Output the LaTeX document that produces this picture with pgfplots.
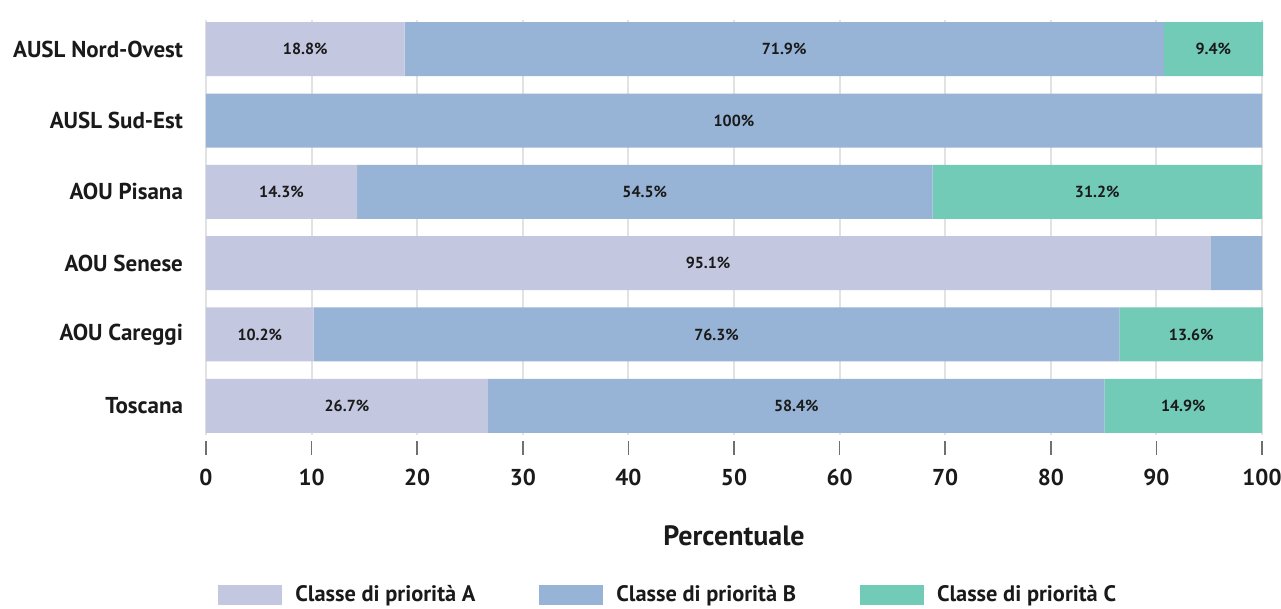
\documentclass[border=0pt]{standalone}
\usepackage{pgfplots}
\usepackage{pgfplotstable}
\pgfplotsset{compat=1.18}
\usepackage{fontspec}
\setmainfont{PT Sans}

\definecolor{clA}{HTML}{C3C7DF}
\definecolor{clB}{HTML}{97B4D6}
\definecolor{clC}{HTML}{72CBB7}
\definecolor{gridc}{HTML}{E2E2E2}
\definecolor{tickc}{HTML}{707070}
\definecolor{txt}{HTML}{1A1A1A}

% y: 0 = Toscana (bottom) ... 5 = AUSL Nord-Ovest (top)
\pgfplotstableread{
y A B C
5 18.8 71.9 9.4
4 0 100 0
3 14.3 54.5 31.2
2 95.1 4.9 0
1 10.2 76.3 13.6
0 26.7 58.4 14.9
}\data

\begin{document}
\begin{tikzpicture}
\begin{axis}[
  scale only axis,
  width=528pt, height=207.5pt,
  xbar stacked,
  bar width=27pt,
  xmin=0, xmax=100,
  ymin=-0.41, ymax=5.41,
  clip=false,
  xtick={0,10,...,100},
  ytick={0,1,2,3,4,5},
  yticklabels={Toscana, AOU Careggi, AOU Senese, AOU Pisana, AUSL Sud-Est, AUSL Nord-Ovest},
  /pgf/number format/assume math mode=true,
  axis line style={draw=none},
  xtick pos=lower,
  xmajorgrids,
  major grid style={gridc, line width=1pt},
  tick align=outside,
  x tick style={tickc, line width=0.8pt, yshift=-3pt},
  major tick length=7pt,
  y tick style={draw=none},
  xticklabel style={font=\bfseries\fontsize{11.5}{13}\selectfont, text=txt, yshift=-6.5pt},
  yticklabel style={font=\bfseries\fontsize{11.5}{13}\selectfont, text=txt, xshift=-1pt},
  xlabel={Percentuale},
  xlabel style={font=\bfseries\fontsize{14}{16}\selectfont, text=txt, at={(axis description cs:0.5,-0.243)}, anchor=center},
  legend columns=3,
  legend style={draw=none, at={(axis description cs:0.0057,-0.3855)}, anchor=west,
    font=\bfseries\fontsize{11.2}{13}\selectfont, text=txt,
    /tikz/every odd column/.append style={column sep=4.5pt},
    /tikz/every even column/.append style={column sep=30pt}},
  legend image code/.code={\draw[#1,draw=none] (0pt,-5pt) rectangle (32pt,5pt);},
  legend cell align=left,
  % segment value as percent, only where the segment is wide enough
  nodes near coords={\ifdim\segval pt<5pt\else\pgfmathprintnumber[fixed,precision=1]{\segval}\%\fi},
  every node near coord/.style={anchor=center, text=txt, font=\bfseries\fontsize{8}{9}\selectfont},
]
\addplot[fill=clA, draw=none, visualization depends on={\thisrow{A}\as\segval}] table[x=A, y=y] {\data};
\addplot[fill=clB, draw=none, visualization depends on={\thisrow{B}\as\segval}] table[x=B, y=y] {\data};
\addplot[fill=clC, draw=none, visualization depends on={\thisrow{C}\as\segval}] table[x=C, y=y] {\data};
\legend{Classe di priorità A, Classe di priorità B, Classe di priorità C}

\coordinate (ll) at (rel axis cs:0,0);
\coordinate (ur) at (rel axis cs:1,1);
\end{axis}
\pgfresetboundingbox
\path[use as bounding box] ([xshift=-103pt,yshift=-87pt]ll) rectangle ([xshift=9.5pt,yshift=10pt]ur);
\end{tikzpicture}
\end{document}
